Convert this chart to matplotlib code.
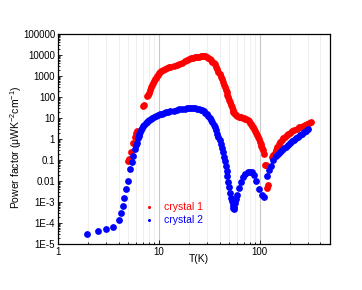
import matplotlib
matplotlib.use('Agg')
import matplotlib.pyplot as plt
from matplotlib.ticker import LogLocator, FixedLocator, FixedFormatter, NullFormatter

plt.rcParams['font.family'] = ['Liberation Sans', 'DejaVu Sans']
plt.rcParams['mathtext.default'] = 'regular'

# crystal 1 (red)
t1 = [5.0, 5.05, 5.3, 5.6, 5.8, 6.0, 6.05, 7.05, 7.1, 7.6, 7.8, 8.0, 8.2, 8.4, 8.6, 8.8,
      9.0, 9.2, 9.4, 9.6, 9.8, 10, 10.3, 10.6, 11, 11.5, 12, 12.5, 13, 14, 15, 16, 17,
      18, 19, 20, 21, 22, 23, 24, 25, 26, 27, 28, 29, 30, 31, 32, 33, 34, 35, 36, 37,
      38, 39, 40, 41, 42, 43, 44, 45, 46, 47, 48, 49, 50, 51, 52, 53, 54, 55, 56, 57,
      58, 60, 62, 64, 66, 68, 70, 72, 74, 76, 78, 80, 82, 84, 86, 88, 90, 92, 94, 96,
      98, 100, 102, 104, 106, 108, 109.5, 114, 115.5, 117, 121, 134, 137, 141, 145,
      150, 155, 160, 166, 172, 178, 185, 192, 200, 210, 220, 232, 245, 258, 270, 283,
      296, 310, 324]
pf1 = [0.093, 0.11, 0.25, 0.63, 1.2, 2.0, 2.3, 35, 40, 110, 130, 160, 220, 290, 360, 450,
       560, 680, 800, 950, 1150, 1350, 1600, 1800, 2000, 2200, 2400, 2550, 2750, 3000,
       3300, 3800, 4300, 5000, 5700, 6500, 7000, 7400, 7700, 7900, 8200, 8500, 8800,
       9000, 8800, 8200, 7300, 6500, 5600, 4800, 4300, 3500, 2700, 2100, 1600, 1200,
       900, 680, 510, 380, 290, 220, 165, 125, 95, 72, 55, 42, 32, 25, 20, 17, 15,
       13.5, 12, 11, 10.7, 10.5, 10, 9.7, 9.3, 8.6, 7.8, 6.9, 6.0, 5.0, 4.2, 3.5,
       2.9, 2.4, 2.0, 1.6, 1.3, 1.0, 0.75, 0.55, 0.45, 0.38, 0.3, 0.19, 0.058, 0.055,
       0.0045, 0.0065, 0.145, 0.17, 0.22, 0.3, 0.42, 0.55, 0.7, 0.85, 1.05, 1.3, 1.5,
       1.75, 2.0, 2.35, 2.7, 3.1, 3.5, 3.9, 4.3, 4.8, 5.3, 5.7, 6.1]

# crystal 2 (blue)
t2 = [1.96, 2.5, 3.0, 3.5, 4.0, 4.2, 4.4, 4.57, 4.75, 4.92, 5.2, 5.4, 5.6, 5.85, 5.95,
      6.07, 6.2, 6.3, 6.4, 6.5, 6.65, 6.8, 7.0, 7.2, 7.4, 7.6, 7.8, 8.0, 8.3, 8.6, 9.0,
      9.4, 9.8, 10.2, 10.7, 11.2, 11.8, 12.4, 13, 14, 15, 16, 17, 18, 19, 20, 21, 22,
      23, 24, 25, 26, 27, 28, 29, 30, 31, 32, 33, 34, 35, 36, 37, 38, 39, 40, 41, 42,
      43, 44, 45, 46, 47, 48, 49, 50, 51, 52, 53, 54, 55, 55.5, 56, 57, 58, 59.7, 62,
      65.5, 69, 72.4, 76, 80, 84, 88, 93, 98.5, 106, 111, 118, 124, 129, 137, 145, 152,
      159, 166, 174, 182, 190, 200, 210, 220, 230, 240, 250, 262, 275, 288, 300]
pf2 = [3.1e-5, 4.3e-5, 5.0e-5, 6.5e-5, 1.4e-4, 2.9e-4, 6.5e-4, 1.6e-3, 4.0e-3, 1.0e-2,
       3.7e-2, 7.8e-2, 0.155, 0.32, 0.5, 0.66, 1.1, 1.4, 1.8, 2.1, 2.6, 3.2, 4.0, 4.8,
       5.6, 6.3, 7.1, 7.8, 8.7, 9.8, 11, 12.3, 13.5, 14.8, 16.2, 17.4, 18.6, 20, 21,
       22.4, 24, 25.7, 27, 28, 29, 29.5, 29.5, 29.5, 29, 28, 27, 25, 23, 20.4, 17.8, 15,
       12.6, 10.2, 8.1, 6.3, 4.8, 3.5, 2.6, 1.8, 1.26, 0.85, 0.56, 0.36, 0.23, 0.14,
       0.085, 0.05, 0.029, 0.0166, 8.9e-3, 5.0e-3, 2.8e-3, 1.6e-3, 1.1e-3, 7e-4, 5e-4,
       4.5e-4, 5.6e-4, 8.9e-4, 1.4e-3, 2.1e-3, 4.5e-3, 9.3e-3, 0.016, 0.022, 0.027,
       0.028, 0.026, 0.019, 0.01, 4.0e-3, 2.1e-3, 1.8e-3, 0.018, 0.032, 0.05, 0.1, 0.15,
       0.19, 0.25, 0.30, 0.35, 0.43, 0.51, 0.63, 0.76, 0.91, 1.07, 1.26, 1.5, 1.8, 2.1,
       2.5, 2.9]

ytick_vals = [1e-5, 1e-4, 1e-3, 1e-2, 1e-1, 1, 10, 100, 1000, 10000, 100000]
ytick_labels = ['1E-5', '1E-4', '1E-3', '0.01', '0.1', '1', '10', '100', '1000',
                '10000', '100000']

fig = plt.figure(figsize=(3.62, 2.9), dpi=100)
ax = fig.add_axes([0.160, 0.159, 0.752, 0.724])

ax.scatter(t1, pf1, s=24, color='#ff0000', linewidths=0, label='crystal 1', zorder=3)
ax.scatter(t2, pf2, s=24, color='#0000ff', linewidths=0, label='crystal 2', zorder=4)

ax.set_xscale('log')
ax.set_yscale('log')
ax.set_xlim(1, 500)
ax.set_ylim(1e-5, 1e5)

ax.xaxis.set_major_locator(FixedLocator([1, 10, 100]))
ax.xaxis.set_major_formatter(FixedFormatter(['1', '10', '100']))
ax.xaxis.set_minor_locator(LogLocator(base=10, subs=range(2, 10)))
ax.xaxis.set_minor_formatter(NullFormatter())
ax.yaxis.set_major_locator(FixedLocator(ytick_vals))
ax.yaxis.set_major_formatter(FixedFormatter(ytick_labels))
ax.yaxis.set_minor_locator(LogLocator(base=10, subs=range(2, 10), numticks=20))
ax.yaxis.set_minor_formatter(NullFormatter())

ax.grid(True, axis='x', which='major', color='#c8c8c8', linewidth=0.8, zorder=0)
ax.grid(True, axis='x', which='minor', color='#ececec', linewidth=0.6, zorder=0)
ax.set_axisbelow(True)

ax.tick_params(axis='both', which='both', direction='in', labelsize=7, pad=2,
               width=0.6, top=False, right=False)
ax.tick_params(axis='both', which='major', length=3)
ax.tick_params(axis='both', which='minor', length=1.5)
for sp in ax.spines.values():
    sp.set_linewidth(0.9)

ax.set_xlabel('T(K)', fontsize=7.5)
ax.xaxis.set_label_coords(0.518, -0.05)
ax.set_ylabel('Power factor (μWK$^{-2}$cm$^{-1}$)', fontsize=7.5)
ax.yaxis.set_label_coords(-0.125, 0.46)

leg = ax.legend(loc='center left', bbox_to_anchor=(0.29, 0.145), frameon=False,
                fontsize=7.5, markerscale=0.45, handletextpad=0.9, labelspacing=0.3,
                handlelength=1.0, borderpad=0.2)
for txt, c in zip(leg.get_texts(), ['#ff0000', '#0000ff']):
    txt.set_color(c)

fig.savefig('out.png', dpi=100)
